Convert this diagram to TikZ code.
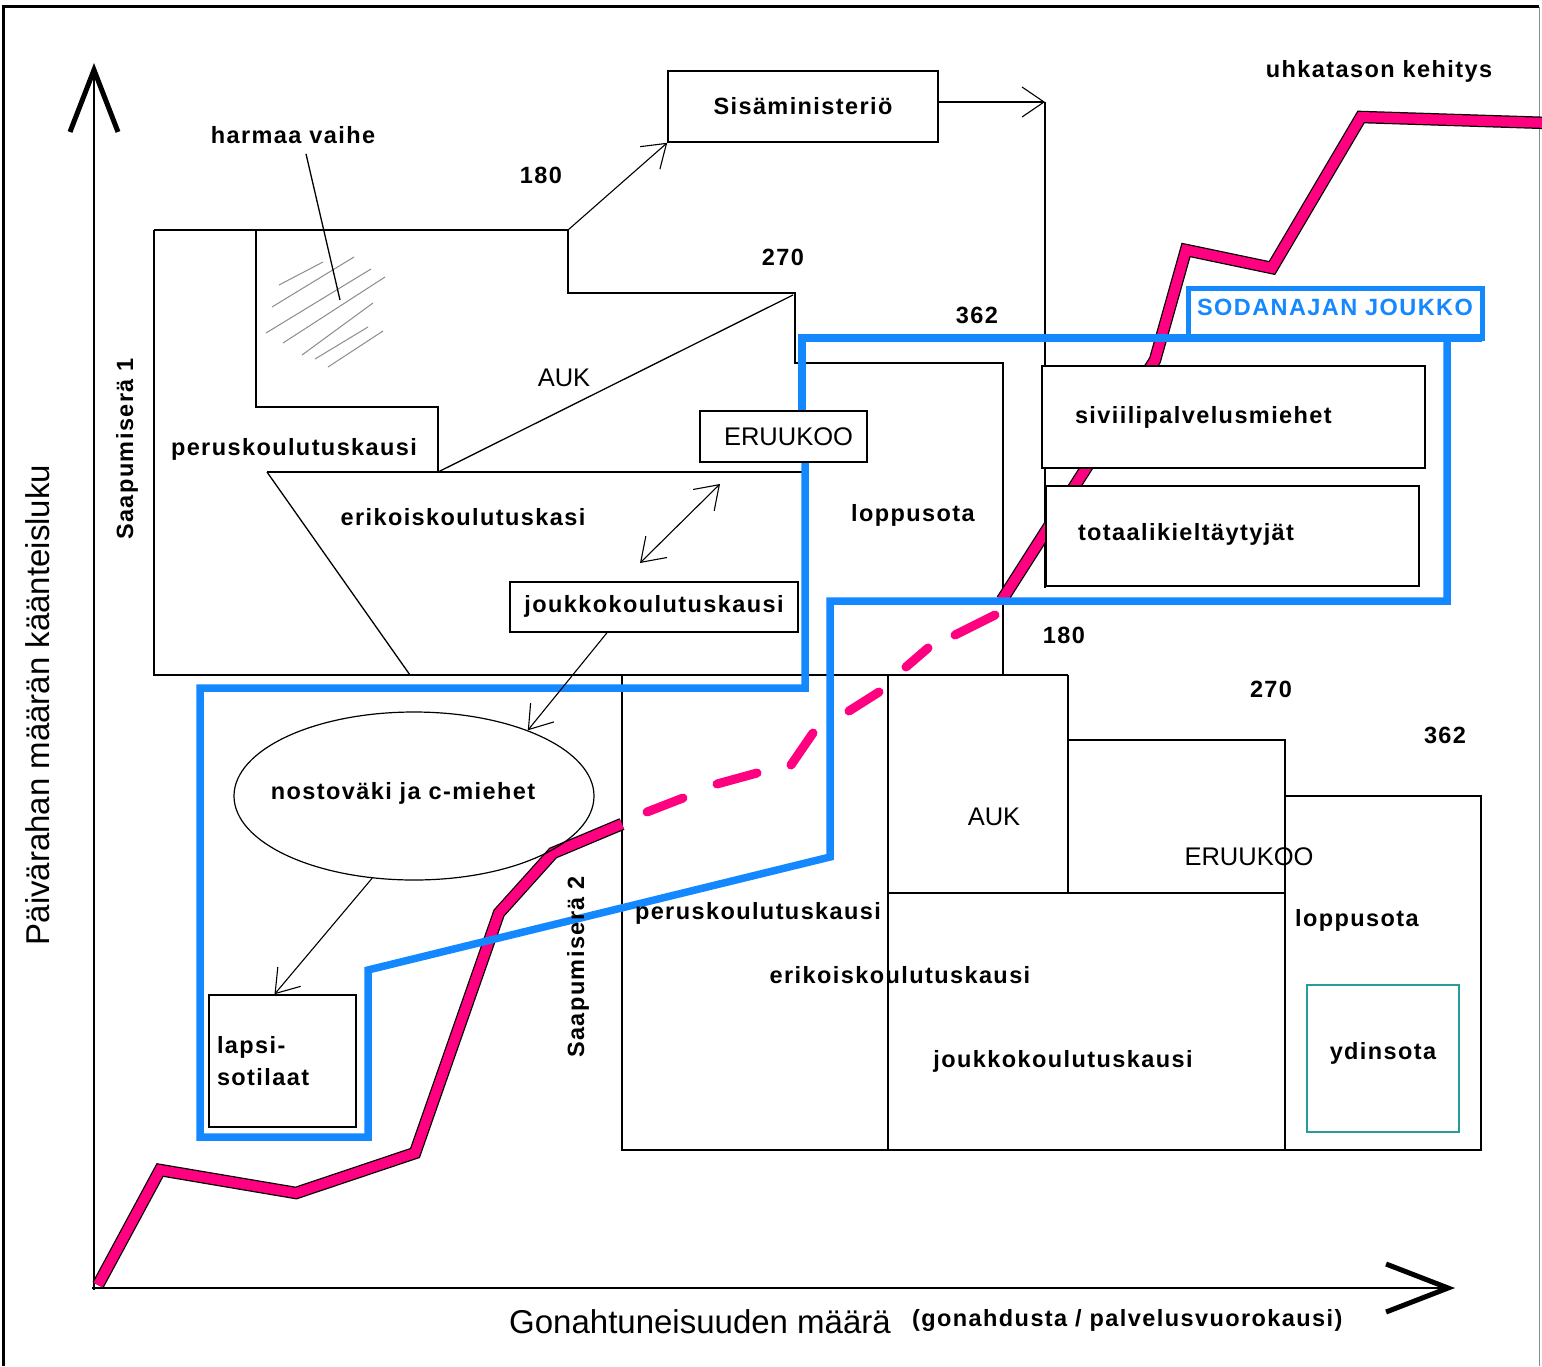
\documentclass[tikz,border=0pt]{standalone}
\usepackage{fontspec}
\setmainfont{Liberation Sans}
\newfontfamily\lbfont[LetterSpace=6]{Liberation Sans}
\usetikzlibrary{arrows.meta,shapes.geometric}
\definecolor{pinkc}{RGB}{255,0,128}
\definecolor{bluec}{RGB}{20,136,255}
\definecolor{tealc}{RGB}{40,155,155}
\begin{document}
\begin{tikzpicture}[x=1pt,y=-1pt,
  every node/.style={inner sep=0pt},
  lbl/.style={font=\lbfont\bfseries\fontsize{23.5}{32}\selectfont},
  regl/.style={font=\fontsize{25.5}{30}\selectfont},
  box/.style={draw, line width=1.5pt, fill=white},
  ln/.style={line width=1.3pt},
  arr/.style={line width=1.1pt, -{Straight Barb[length=22pt,width=30pt]}},
  darr/.style={line width=1.1pt, {Straight Barb[length=22pt,width=30pt]}-{Straight Barb[length=22pt,width=30pt]}},
  bl/.style={draw=bluec, line width=7.5pt},
  pk/.style={draw=pinkc, line width=10pt, preaction={draw=black, line width=12.5pt}},
  dsh/.style={draw=pinkc, line width=9pt, line cap=round},
  hatch/.style={draw=black!45, line width=1pt},
  axis/.style={line width=2.8pt, -{Straight Barb[length=62pt,width=48pt,line width=5pt]}},
]
\useasboundingbox (0,0) rectangle (1542,1366);
\fill[white] (0,0) rectangle (1542,1366);

% frame
\draw[line width=3pt] (3.5,1366) -- (3.5,6.5) -- (1539,6.5);
\draw[line width=1.2pt, black!45] (1539.5,6.5) -- (1539.5,1366);

% axes
\coordinate (O) at (94,1288);
\coordinate (ytip) at (94,63);
\coordinate (xtip) at (1455,1288);
\draw[axis] (94,1290) -- (ytip);
\draw[axis] (92,1288) -- (xtip);

% upper block (Saapumiserä 1)
\draw[ln] (154,230) -- (568,230) -- (568,293) -- (795,293) -- (795,363) -- (1003,363) -- (1003,675);
\draw[ln] (154,230) -- (154,675) -- (1068,675);
\draw[ln] (256,230) -- (256,407) -- (438,407) -- (438,472);
\draw[ln] (267,472) -- (802,472);
\draw[ln] (267,472) -- (410,675);
\draw[ln] (438,472) -- (793,295);

% lower block (Saapumiserä 2)
\draw[ln] (622,675) -- (622,1150) -- (1481,1150) -- (1481,796) -- (1285,796);
\draw[ln] (1285,1150) -- (1285,740) -- (1068,740);
\draw[ln] (1068,675) -- (1068,893);
\draw[ln] (888,675) -- (888,1150);
\draw[ln] (888,893) -- (1285,893);

% vertical line from Sisäministeriö arrow
\coordinate (sisr) at (1045,102);
\coordinate (sisb) at (1045,588);
\draw[ln] (sisr) -- (sisb);

% hatching (harmaa vaihe)
\draw[hatch] (279,285) -- (323,262);
\draw[hatch] (272,307) -- (354,257);
\draw[hatch] (266,333) -- (371,269);
\draw[hatch] (283,343) -- (385,277);
\draw[hatch] (302,355) -- (373,303);
\draw[hatch] (315,359) -- (368,327);
\draw[hatch] (328,367) -- (383,331);

% threat level line (uhkatason kehitys)
\draw[pk, line join=miter] (98,1285) -- (160,1170) -- (296,1193) -- (415,1153) -- (499,913) -- (553,853) -- (622,824);
\draw[dsh] (647,812) -- (683,798);
\draw[dsh] (717,784) -- (757,773);
\draw[dsh] (791,765) -- (813,733);
\draw[dsh] (849,711) -- (879,692);
\draw[dsh] (906,667) -- (928,648);
\draw[dsh] (955,635) -- (995,615);
\draw[pk, line join=miter] (1002,600) -- (1155,360) -- (1186,250) -- (1272,268) -- (1361,117) -- (1548,123);

% boxes
\node[box, minimum width=270pt, minimum height=71pt, lbl] (sis) at (803,106.5) {Sisäministeriö};
\node[box, minimum width=383pt, minimum height=102pt, lbl, text width=317pt, inner xsep=33pt, align=left] (siv) at (1233.5,417) {siviilipalvelusmiehet};
\node[box, minimum width=373pt, minimum height=100pt, lbl, text width=309pt, inner xsep=32pt, align=left] (tot) at (1232.5,536) {\raisebox{8pt}{totaalikieltäytyjät}};
\node[box, minimum width=288pt, minimum height=50pt, lbl] (jk) at (654,607) {\raisebox{7pt}{joukkokoulutuskausi}};
\node[box, minimum width=147pt, minimum height=132pt, lbl, text width=131pt, align=left] (lap) at (282.5,1061) {lapsi-\\sotilaat};
\node[draw=tealc, line width=1.3pt, minimum width=152pt, minimum height=147pt, lbl] (yd) at (1383,1058.5) {\raisebox{16pt}{ydinsota}};
\node[ellipse, draw, line width=1.2pt, minimum width=360pt, minimum height=168pt, lbl] (nost) at (414,796) {\makebox[0pt]{\raisebox{10pt}{nostoväki ja c-miehet}\hspace*{22pt}}};

% blue (SODANAJAN JOUKKO)
\draw[bl] (802,411) -- (802,338) -- (1482,338);
\draw[bl] (1447,338) -- (1447,601) -- (830,601) -- (830,857) -- (368,970) -- (368,1137) -- (200,1137) -- (200,688) -- (805,688) -- (805,462);
\node[draw=bluec, line width=5pt, minimum width=294pt, minimum height=50pt, lbl, text=bluec] (sod) at (1335,313) {\raisebox{11pt}{SODANAJAN JOUKKO}};
\node[box, minimum width=167pt, minimum height=51pt, regl] (eru) at (783.5,436.5) {\hspace*{10pt}ERUUKOO};

% connectors
\coordinate (k180) at (568,230);
\draw[arr] (k180) -- (sis.south west);
\draw[arr] (sis.east |- sisr) -- (sisr);
\draw[arr] ([xshift=-47pt]jk.south) -- (nost.30);
\draw[arr] (nost.243) -- ([xshift=-8pt]lap.north);
\coordinate (da1) at (640,563);
\coordinate (da2) at (720,484);
\draw[darr] (da1) -- (da2);

% labels
\node[lbl] (hv) at (293,135) {harmaa vaihe};
\coordinate (hvp) at (340,300);
\draw[ln] ([xshift=13pt,yshift=-10pt]hv.south) -- (hvp);
\node[lbl] (n180a) at (541,175) {180};
\node[lbl] (n270a) at (783,257) {270};
\node[lbl] (n362a) at (977,315) {362};
\node[regl] (auka) at (564,378) {AUK};
\node[lbl] (perua) at (294,449) {peruskoulutuskausi};
\node[lbl] (erika) at (463,517) {erikoiskoulutuskasi};
\node[lbl] (loppa) at (913,515) {loppusota};
\node[lbl] (uhka) at (1379,71) {uhkatason kehitys};
\node[lbl] (n180b) at (1064,635) {180};
\node[lbl] (n270b) at (1271,689) {270};
\node[lbl] (n362b) at (1445,735) {362};
\node[regl] (aukb) at (994,817) {AUK};
\node[regl] (erub) at (1249,857) {ERUUKOO};
\node[lbl] (perub) at (758,913) {peruskoulutuskausi};
\node[lbl] (erikb) at (900,975) {erikoiskoulutuskausi};
\node[lbl] (joukb) at (1063,1061) {joukkokoulutuskausi};
\node[lbl] (loppb) at (1357,920) {loppusota};
\node[lbl, rotate=90] (saap1) at (127,449) {Saapumiserä 1};
\node[lbl, rotate=90] (saap2) at (578,967) {Saapumiserä 2};

% axis titles
\node[font=\fontsize{33}{40}\selectfont, rotate=90] (ylab) at (38,705) {Päivärahan määrän käänteisluku};
\node[font=\fontsize{33}{40}\selectfont] (xlab) at (700,1322) {Gonahtuneisuuden määrä};
\node[font=\lbfont\bfseries\fontsize{23.5}{28}\selectfont, anchor=west] (xsub) at (912,1320) {(gonahdusta / palvelusvuorokausi)};
\end{tikzpicture}
\end{document}
